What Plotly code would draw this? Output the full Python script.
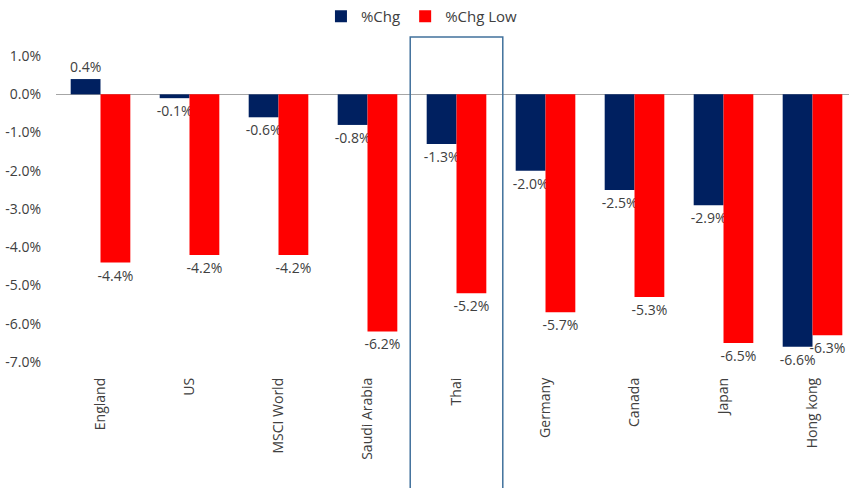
import plotly.graph_objects as go

categories = ["England", "US", "MSCI World", "Saudi Arabia", "Thai", "Germany", "Canada", "Japan", "Hong kong"]
chg = [0.4, -0.1, -0.6, -0.8, -1.3, -2.0, -2.5, -2.9, -6.6]
chg_low = [-4.4, -4.2, -4.2, -6.2, -5.2, -5.7, -5.3, -6.5, -6.3]
y_ticks = [1, 0, -1, -2, -3, -4, -5, -6, -7]
y_tick_labels = ["1.0%", "0.0%", "-1.0%", "-2.0%", "-3.0%", "-4.0%", "-5.0%", "-6.0%", "-7.0%"]
highlight = "Thai"

FONT = "Open Sans, sans-serif"

fig = go.Figure()
fig.add_trace(go.Bar(
    name="%Chg", x=categories, y=chg, marker_color="#002060",
    marker_line=dict(width=8, color="rgba(0,0,0,0)"),
    text=[f"{v:.1f}%" for v in chg], textposition="outside", constraintext="none",
    textfont=dict(family=FONT, size=14, color="#404040"), cliponaxis=False,
))
fig.add_trace(go.Bar(
    name="%Chg Low", x=categories, y=chg_low, marker_color="#FF0000",
    marker_line=dict(width=8, color="rgba(0,0,0,0)"),
    text=[f"{v:.1f}%" for v in chg_low], textposition="outside", constraintext="none",
    textfont=dict(family=FONT, size=14, color="#404040"), cliponaxis=False,
))

hi = categories.index(highlight)
fig.add_shape(type="rect", xref="x", yref="paper",
              x0=hi - 0.52, x1=hi + 0.52, y0=-0.4, y1=1.0,
              line=dict(color="#41719C", width=1.5), fillcolor="rgba(0,0,0,0)")

fig.update_layout(
    width=849, height=488,
    margin=dict(l=56, r=0, t=37, b=126),
    paper_bgcolor="white", plot_bgcolor="white",
    barmode="group", bargap=0.33, bargroupgap=0,
    font=dict(family=FONT, size=14, color="#404040"),
    legend=dict(orientation="h", xref="container", x=0.497, xanchor="center",
                yref="container", y=1.0, yanchor="top",
                font=dict(family=FONT, size=15, color="#404040"),
                traceorder="normal"),
    showlegend=True,
)
fig.update_xaxes(
    type="category", range=[-0.5, 8.41], showline=False, showgrid=False,
    tickangle=-90, ticks="", ticklabelstandoff=12,
    tickfont=dict(family=FONT, size=14, color="#404040"),
)
fig.update_yaxes(
    range=[-7, 1.5], tickvals=y_ticks, ticktext=y_tick_labels,
    showgrid=False, showline=False, zeroline=True, zerolinecolor="#A6A6A6",
    zerolinewidth=1, ticks="", ticklabelstandoff=14,
    tickfont=dict(family=FONT, size=14, color="#404040"),
)

fig.write_html("out.html")
